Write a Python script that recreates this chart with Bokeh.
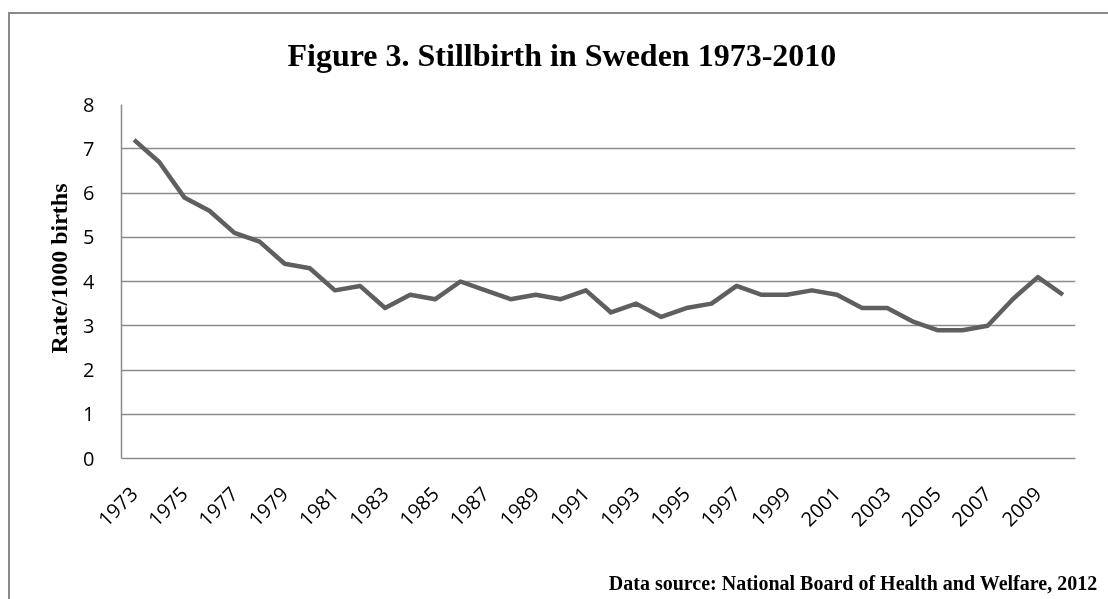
import math
from bokeh.plotting import figure
from bokeh.models import Range1d, FixedTicker, Title
from bokeh.embed import file_html
from bokeh.resources import INLINE

years = list(range(1973, 2011))
rates = [7.2, 6.7, 5.9, 5.6, 5.1, 4.9, 4.4, 4.3, 3.8, 3.9,
         3.4, 3.7, 3.6, 4.0, 3.8, 3.6, 3.7, 3.6, 3.8, 3.3,
         3.5, 3.2, 3.4, 3.5, 3.9, 3.7, 3.7, 3.8, 3.7, 3.4,
         3.4, 3.1, 2.9, 2.9, 3.0, 3.6, 4.1, 3.7]
x_ticks = list(range(1973, 2010, 2))
y_ticks = [0, 1, 2, 3, 4, 5, 6, 7, 8]

title_text = "Figure 3. Stillbirth in Sweden 1973-2010"
ylabel_text = "Rate/1000 births"
footer_text = "Data source: National Board of Health and Welfare, 2012"

GRID = "#8c8c8c"
W, H = 1108, 640

p = figure(width=W, height=H, output_backend="svg", toolbar_location=None,
           x_range=Range1d(years[0] - 0.5, years[-1] + 0.5), y_range=Range1d(0, 8),
           min_border_left=121, min_border_right=W - 1075, min_border_top=104,
           min_border_bottom=H - 458)
p.border_fill_color = None
p.background_fill_color = "white"
p.outline_line_color = None
p.styles = {
    "position": "fixed",
    "top": "0px",
    "left": "0px",
    "background-image": "linear-gradient(#8a8a8a,#8a8a8a), linear-gradient(#8a8a8a,#8a8a8a)",
    "background-size": "2px 100%, 100% 2px",
    "background-position": "8px 12px, 8px 12px",
    "background-repeat": "no-repeat",
}

p.line(years, rates, line_color="#5f5f5f", line_width=4.5, line_join="round")

p.xaxis.ticker = FixedTicker(ticks=x_ticks)
p.yaxis.ticker = FixedTicker(ticks=y_ticks)
p.xgrid.visible = False
p.ygrid.grid_line_color = GRID
p.ygrid.grid_line_width = 1.5

for ax in (p.xaxis[0], p.yaxis[0]):
    ax.axis_line_color = GRID
    ax.axis_line_width = 1.5
    ax.major_tick_line_color = None
    ax.minor_tick_line_color = None
    ax.major_tick_out = 0
    ax.major_tick_in = 0
    ax.major_label_text_font = "Open Sans"
    ax.major_label_text_font_size = "20px"
    ax.major_label_text_color = "black"

p.xaxis.major_label_orientation = math.pi / 4
p.xaxis.major_label_standoff = 32
p.yaxis.major_label_standoff = 27

p.title = Title(text=title_text, align="left", offset=166, standoff=63,
                text_font="Liberation Serif", text_font_style="bold",
                text_font_size="32px", text_color="black")
p.add_layout(Title(text=ylabel_text, align="left", offset=105, standoff=17,
                   text_font="Liberation Serif", text_font_style="bold",
                   text_font_size="24px", text_color="black"), "left")
p.add_layout(Title(text=footer_text, align="right", offset=-22, standoff=72,
                   vertical_align="top",
                   text_font="Liberation Serif", text_font_style="bold",
                   text_font_size="20px", text_color="black"), "below")

open("out.html", "w").write(file_html(p, INLINE))
